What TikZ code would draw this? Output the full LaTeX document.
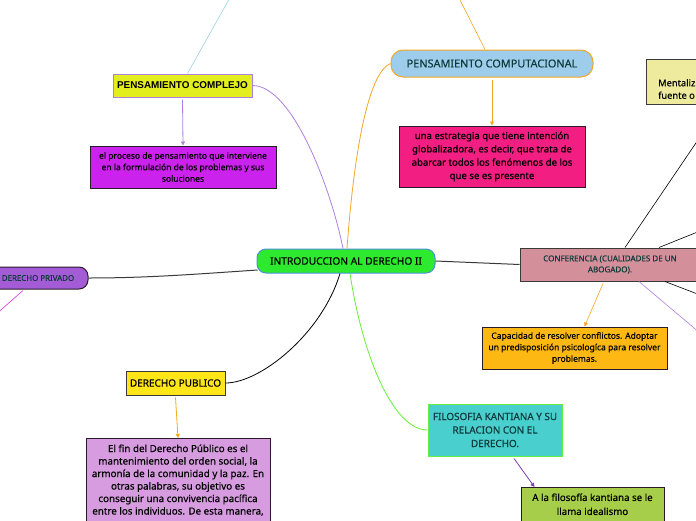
\documentclass[tikz,border=0pt]{standalone}
\usepackage{fontspec}
\setmainfont{Noto Sans}[FakeBold=0.35]
\newfontfamily\arialfont{Liberation Sans}
\usetikzlibrary{arrows.meta,calc}
\definecolor{cgreen}{HTML}{2EEA2E}
\definecolor{cblue}{HTML}{4A90D9}
\definecolor{cyel}{HTML}{E3EE1E}
\definecolor{cpurpl}{HTML}{B07FDC}
\definecolor{cmag}{HTML}{CC22EE}
\definecolor{clblue}{HTML}{9ECDEB}
\definecolor{corange}{HTML}{F5A623}
\definecolor{cpink}{HTML}{F21E82}
\definecolor{crose}{HTML}{D4909A}
\definecolor{cpale}{HTML}{EEEA9E}
\definecolor{camber}{HTML}{FDB813}
\definecolor{cviolet}{HTML}{A35BD6}
\definecolor{cgold}{HTML}{FFE619}
\definecolor{clav}{HTML}{D69CDF}
\definecolor{ccyan}{HTML}{4ACFCF}
\definecolor{clime}{HTML}{66EE44}
\definecolor{colive}{HTML}{A6CE4A}
\definecolor{cteal}{HTML}{0F3B3B}
\definecolor{cdark}{HTML}{2A1A2A}
\definecolor{cskyline}{HTML}{9FD0E6}
\definecolor{cmagline}{HTML}{D633D6}
\definecolor{cgreenline}{HTML}{66F033}
\definecolor{cgrayline}{HTML}{3A3A3A}
\definecolor{cpurpline}{HTML}{7A3FB0}
\tikzset{
  box/.style={draw=cdark, line width=1pt, inner sep=0pt, align=center},
  tip/.style={-{Triangle[length=4pt,width=4pt]}},
  conn/.style={line width=0.8pt},
}
\begin{document}
\begin{tikzpicture}[x=1pt,y=-1pt]
\useasboundingbox (0,0) rectangle (696,520);
\clip (0,0) rectangle (696,520);

% central
\node[box, draw=cblue, fill=cgreen, rounded corners=9pt, minimum width=178pt, minimum height=24pt,
  font=\fontsize{10.2}{12}\selectfont, text=black] (c) at (346,261) {INTRODUCCION AL DERECHO II};

% pensamiento complejo
\node[box, draw=cpurpl, fill=cyel, minimum width=139pt, minimum height=23pt,
  font=\arialfont\bfseries\fontsize{9.9}{12}\selectfont] (pc) at (182.5,85.5) {PENSAMIENTO COMPLEJO};
\node[box, fill=cmag, minimum width=186pt, minimum height=42pt,
  font=\fontsize{8.5}{11.5}\selectfont] (pro) at (183,167)
  {el proceso de pensamiento que interviene\\en la formulación de los problemas y sus\\soluciones};

% pensamiento computacional
\node[box, draw=corange, fill=clblue, rounded corners=12pt, minimum width=202pt, minimum height=27pt,
  font=\fontsize{10.9}{12}\selectfont, text=cteal] (pcomp) at (492,63.5) {PENSAMIENTO COMPUTACIONAL};
\node[box, fill=cpink, minimum width=186pt, minimum height=61pt,
  font=\fontsize{9.6}{13.3}\selectfont] (est) at (492,156.5)
  {una estrategia que tiene intención\\globalizadora, es decir, que trata de\\abarcar todos los fenómenos de los\\que se es presente};

% conferencia
\node[box, draw=cgrayline, fill=crose, minimum width=180pt, minimum height=33pt,
  font=\fontsize{8}{11}\selectfont, text=cteal] (conf) at (610,264.5)
  {CONFERENCIA (CUALIDADES DE UN\\ABOGADO).};
\node[box, draw=cgrayline, fill=cpale, minimum width=114pt, minimum height=45pt] (ment) at (703,81.5) {};
\node[anchor=west, align=left, inner sep=0pt, font=\fontsize{9.3}{12.5}\selectfont] (menttext) at (658,89)
  {Mentaliz\\fuente o};
\node[box, fill=camber, minimum width=185pt, minimum height=42pt,
  font=\fontsize{8.5}{11.5}\selectfont] (cap) at (574.5,348)
  {Capacidad de resolver conflictos. Adoptar\\un predisposición psicologíca para resolver\\problemas.};

% derecho privado
\node[box, fill=cviolet, rounded corners=9pt, minimum width=100pt, minimum height=22pt,
  font=\fontsize{7.9}{10}\selectfont, text=cteal] (priv) at (38,278) {DERECHO PRIVADO};

% derecho publico
\node[box, draw=cgrayline, fill=cgold, minimum width=99pt, minimum height=24pt,
  font=\fontsize{10}{12}\selectfont] (pub) at (175.5,383) {DERECHO PUBLICO};
\node[box, fill=clav, minimum width=184pt, anchor=north, inner ysep=6pt,
  font=\fontsize{9.8}{12.5}\selectfont] (fin) at (178,438)
  {El fin del Derecho Público es el\\mantenimiento del orden social, la\\armonía de la comunidad y la paz. En\\otras palabras, su objetivo es\\conseguir una convivencia pacífica\\entre los individuos. De esta manera,\\ };

% filosofia kantiana
\node[box, draw=clime, fill=ccyan, minimum width=134pt, minimum height=52pt,
  font=\fontsize{9.9}{13.5}\selectfont, text=cteal] (fil) at (495,430)
  {FILOSOFIA KANTIANA Y SU\\RELACION CON EL\\DERECHO.};
\node[box, fill=colive, minimum width=143pt, anchor=north, inner ysep=6pt,
  font=\fontsize{9.7}{14}\selectfont] (kant) at (592.5,487)
  {A la filosofía kantiana se le\\llama idealismo\\ \\ };

% free ends
\coordinate (skyend) at (232,-6);
\coordinate (orend) at (457,-6);
\coordinate (r1) at (700,137);
\coordinate (r2) at (700,231);
\coordinate (r3) at (700,295);
\coordinate (r4) at (700,333);
\coordinate (magend) at (-6,316);

% connectors
\draw[conn, cpurpl] ($(c.north)+(-3,0)$) .. controls +(-12,-60) and +(40,0) .. (pc.east);
\draw[conn, corange] ($(c.north)+(1,0)$) .. controls +(8,-110) and +(-20,8) .. (pcomp.west);
\draw[conn, cskyline, line width=0.6pt] ($(pc.north)+(5,0)$) -- (skyend);
\draw[conn, cpurpl, tip] ($(pc.south)+(0,2)$) -- (pro.north);
\draw[conn, corange, line width=0.6pt] ($(pcomp.north)+(-7,0)$) -- (orend);
\draw[conn, corange, tip] ($(pcomp.south)+(0,2)$) -- (est.north);
\draw[conn, cgrayline, line width=1pt] (c.east) -- (conf.west);
\draw[conn, black, line width=0.6pt] ($(conf.north)+(15,0)$) -- (r1);
\draw[conn, black, line width=0.6pt] ($(conf.north)+(49,0)$) -- (r2);
\draw[conn, black, line width=0.6pt] ($(conf.south)+(55,0)$) -- (r3);
\draw[conn, cpurpl, line width=0.6pt] ($(conf.south)+(29,0)$) -- (r4);
\draw[conn, corange, line width=0.6pt, tip] ($(conf.south)+(-7,2)$) -- ($(cap.north)+(10,0)$);
\draw[conn, cgrayline, line width=1pt] (priv.east) .. controls +(60,0) and +(-60,4) .. ($(c.west)+(1,9)$);
\draw[conn, cmagline, line width=0.6pt] ($(priv.south)+(-15,1)$) -- (magend);
\draw[conn, black] ($(c.south)+(-6,0)$) .. controls +(-18,60) and +(35,0) .. (pub.east);
\draw[conn, corange, tip] ($(pub.south)+(0,2)$) -- (fin.north);
\draw[conn, cgreenline] ($(c.south)+(4,0)$) .. controls +(12,80) and +(-35,0) .. (fil.west);
\draw[conn, cpurpline, tip] ($(fil.south)+(19,2)$) -- ($(kant.north)+(-58,0)$);
\end{tikzpicture}
\end{document}
